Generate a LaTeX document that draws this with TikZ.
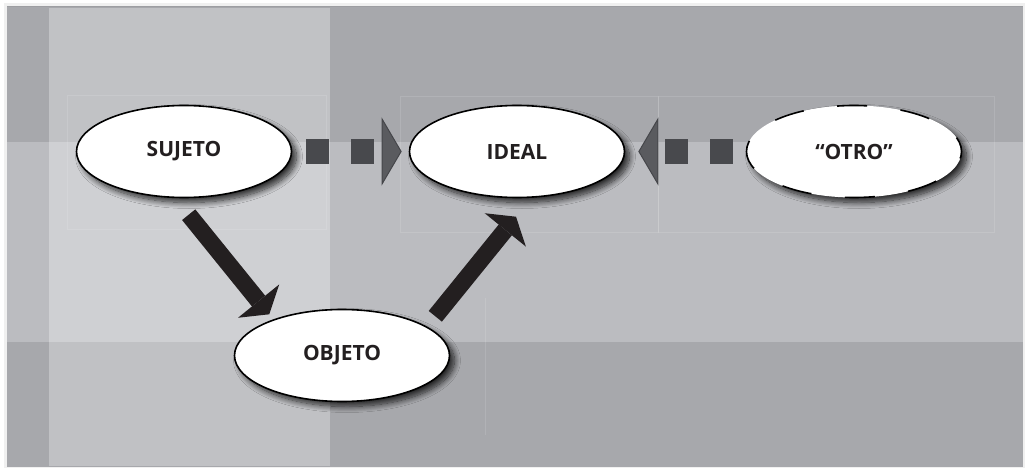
\documentclass[tikz,border=0pt]{standalone}
\usepackage{fontspec}
\setsansfont{Open Sans}
\usetikzlibrary{arrows.meta,shadows.blur,shapes.geometric}

% panel colours
\definecolor{bandDark}{HTML}{A7A8AC}
\definecolor{bandMid}{HTML}{BBBCC0}
\definecolor{colTop}{HTML}{C1C2C5}
\definecolor{colMid}{HTML}{CFD0D3}
\definecolor{colBot}{HTML}{C0C1C4}
\definecolor{panelEdge}{HTML}{9D9EA2}
% drawing colours
\definecolor{inkText}{HTML}{231F20}
\definecolor{inkArrow}{HTML}{231F20}
\definecolor{sqFill}{HTML}{48494D}
\definecolor{headFill}{HTML}{5A5B5F}
\definecolor{headEdge}{HTML}{45464A}

\tikzset{
  blob/.style={ellipse, draw=black, line width=1.6pt, fill=white,
    minimum width=215pt, minimum height=92pt, inner sep=0pt,
    text=inkText, font=\sffamily\bfseries\fontsize{21}{24}\selectfont,
    blur shadow={shadow xshift=5pt, shadow yshift=-5pt,
      shadow blur radius=6pt, shadow opacity=80, shadow blur steps=12}},
  dashedblob/.style={blob, dash pattern=on 30pt off 33.7pt, dash phase=15pt},
  bigarrow/.style={draw=inkArrow, line width=17pt,
    -{Triangle[length=17pt, width=53pt, line width=0pt]}},
  dasharrow/.style={draw=sqFill, line width=25pt, dash pattern=on 23pt off 22pt,
    -{Triangle[length=20pt, width=68pt, line width=1pt, fill=headFill, color=headEdge]}},
  faintbox/.style={draw=white, opacity=0.12, line width=0.6pt}
}

\begin{document}
\begin{tikzpicture}[x=1pt, y=-1pt]
  \useasboundingbox (0,0) rectangle (1025,468);
  \fill[white] (0,0) rectangle (1025,468);
  \fill[black!6] (4,3) rectangle (1025,468);

  % background panel: three horizontal bands
  \fill[bandDark] (7,6) rectangle (1023,142);
  \fill[bandMid]  (7,142) rectangle (1023,342);
  \fill[bandDark] (7,342) rectangle (1023,467);
  % lighter column on the left
  \fill[colTop] (49,8) rectangle (330,142);
  \fill[colMid] (49,142) rectangle (330,342);
  \fill[colBot] (49,342) rectangle (330,466);
  \draw[panelEdge, line width=1.5pt] (7,6.75) -- (1023,6.75);

  % faint frames behind the ellipses
  \draw[faintbox] (67,95) rectangle (326,229);
  \draw[faintbox] (400,96) rectangle (658,232);
  \draw[faintbox] (658,96) rectangle (994,232);
  \draw[faintbox] (485,298) -- (485,435);

  % ellipses
  \node[blob] (sujeto) at (184,151.5) {SUJETO};
  \node[blob] (ideal)  at (517,151.5) {IDEAL};
  \node[dashedblob] (otro) at (854,151.5) {“OTRO”};
  \node[blob] (objeto) at (342,355.5) {OBJETO};

  % solid arrows via the object
  \coordinate (a1tail) at (188.7,214.7);
  \coordinate (a1tip)  at (269.3,314.3);
  \coordinate (a2tail) at (435.3,316.3);
  \coordinate (a2tip)  at (516,216.7);
  \draw[bigarrow] (a1tail) -- (a1tip);
  \draw[bigarrow] (a2tail) -- (a2tip);

  % dashed arrows towards the ideal
  \draw[dasharrow] ([xshift=14pt]sujeto.east) -- ([xshift=-7pt]ideal.west);
  \draw[dasharrow] ([xshift=-13pt]otro.west) -- ([xshift=13pt]ideal.east);
\end{tikzpicture}
\end{document}
